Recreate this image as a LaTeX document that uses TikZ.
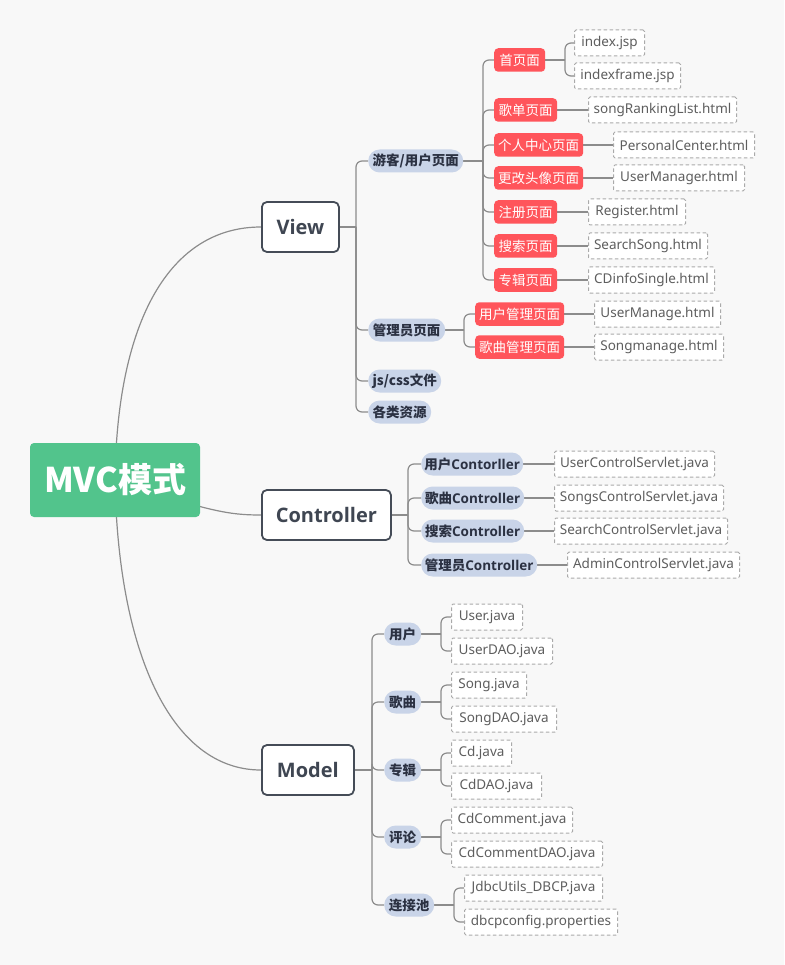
\documentclass[tikz,border=0pt]{standalone}
\usepackage{fontspec}
\setmainfont{Noto Sans}
\newfontfamily\cjk{Noto Sans CJK SC}
\newfontfamily\lat{Noto Sans}
\newfontfamily\latb{Open Sans}
\definecolor{bgc}{HTML}{F8F8F8}
\definecolor{greenc}{HTML}{52C48C}
\definecolor{redc}{HTML}{FF555B}
\definecolor{pillc}{HTML}{C9D4E8}
\definecolor{pilltext}{HTML}{2B3142}
\definecolor{mainb}{HTML}{454C57}
\definecolor{maint}{HTML}{3F4652}
\definecolor{linec}{HTML}{8C8C8C}
\definecolor{dashc}{HTML}{AAAAAA}
\definecolor{dtext}{HTML}{5E5E5E}
\pgfdeclarelayer{bg}
\pgfsetlayers{bg,main}
\tikzset{
  conn/.style={draw=linec, line width=1.2pt},
  elbow/.style={conn, rounded corners=6pt},
  dbox/.style={draw=dashc, dash pattern=on 3.5pt off 2.5pt, fill=white, rounded corners=1.5pt, line width=1pt, font=\lat\fontsize{13.5}{13.5}\selectfont, text=dtext, anchor=west, inner sep=0pt, minimum height=26pt},
  rnode/.style={fill=redc, text=white, rounded corners=4pt, anchor=west, inner sep=0pt, minimum height=23.5pt, font=\cjk\fontsize{13.5}{13.5}\selectfont},
  pill/.style={fill=pillc, text=pilltext, rounded corners=11.5pt, anchor=west, inner sep=0pt, minimum height=23pt, font=\cjk\bfseries\fontsize{13.5}{13.5}\selectfont},
  mainnode/.style={draw=mainb, line width=1.8pt, fill=white, rounded corners=5pt, text=maint, font=\latb\bfseries\fontsize{20}{20}\selectfont, minimum height=50pt, anchor=west, inner sep=0pt},
  rootnode/.style={fill=greenc, text=white, rounded corners=4pt, font=\cjk\bfseries\fontsize{34}{34}\selectfont, minimum width=170pt, minimum height=74pt, inner sep=0pt}
}
\begin{document}
\begin{tikzpicture}[x=1pt,y=-1pt]
\begin{pgfonlayer}{bg}
\fill[bgc] (0,0) rectangle (784,965);
\end{pgfonlayer}
\useasboundingbox (0,0) rectangle (784,965);

% root and main nodes
\node[rootnode] (root) at (115,480) {MVC模式};
\node[mainnode, minimum width=77pt] (view) at (261,227) {View};
\node[mainnode, minimum width=129pt] (ctrl) at (261,515) {Controller};
\node[mainnode, minimum width=92pt] (model) at (261,770) {Model};

% View children
\node[pill, minimum width=95pt] (g1) at (368,161) {游客/用户页面};
\node[pill, minimum width=77pt] (g2) at (368,330) {管理员页面};
\node[pill, minimum width=73pt] (g3) at (368,381) {js/css文件};
\node[pill, minimum width=63pt] (g4) at (368,412) {各类资源};

\node[rnode, minimum width=51pt] (r1) at (494,60) {首页面};
\node[rnode, minimum width=63pt] (r2) at (494,110) {歌单页面};
\node[rnode, minimum width=89pt] (r3) at (494,145) {个人中心页面};
\node[rnode, minimum width=89pt] (r4) at (494,178) {更改头像页面};
\node[rnode, minimum width=63pt] (r5) at (494,212) {注册页面};
\node[rnode, minimum width=63pt] (r6) at (494,246) {搜索页面};
\node[rnode, minimum width=63pt] (r7) at (494,280) {专辑页面};
\node[rnode, minimum width=89pt] (r8) at (475,314) {用户管理页面};
\node[rnode, minimum width=89pt] (r9) at (475,347) {歌曲管理页面};

\node[dbox, minimum width=70pt] (d1a) at (574,43) {index.jsp};
\node[dbox, minimum width=106pt] (d1b) at (574,76) {indexframe.jsp};
\node[dbox, minimum width=148pt] (d2) at (588,110) {songRankingList.html};
\node[dbox, minimum width=141pt] (d3) at (613,145) {PersonalCenter.html};
\node[dbox, minimum width=131pt] (d4) at (613,178) {UserManager.html};
\node[dbox, minimum width=97pt] (d5) at (588,212) {Register.html};
\node[dbox, minimum width=119pt] (d6) at (588,246) {SearchSong.html};
\node[dbox, minimum width=126pt] (d7) at (588,280) {CDinfoSingle.html};
\node[dbox, minimum width=126pt] (d8) at (594,314) {UserManage.html};
\node[dbox, minimum width=129pt] (d9) at (594,347) {Songmanage.html};

% Controller children
\node[pill, minimum width=102pt] (c1) at (421,464) {用户{\latb\bfseries Contorller}};
\node[pill, minimum width=103pt] (c2) at (421,498) {歌曲{\latb\bfseries Controller}};
\node[pill, minimum width=103pt] (c3) at (421,531) {搜索{\latb\bfseries Controller}};
\node[pill, minimum width=116pt] (c4) at (421,565) {管理员{\latb\bfseries Controller}};
\node[dbox, minimum width=160pt] (e1) at (554,464) {UserControlServlet.java};
\node[dbox, minimum width=169pt] (e2) at (554,498) {SongsControlServlet.java};
\node[dbox, minimum width=173pt] (e3) at (554,531) {SearchControlServlet.java};
\node[dbox, minimum width=172pt] (e4) at (567,565) {AdminControlServlet.java};

% Model children
\node[pill, minimum width=37pt] (m1) at (384,634) {用户};
\node[pill, minimum width=37pt] (m2) at (384,702) {歌曲};
\node[pill, minimum width=37pt] (m3) at (384,770) {专辑};
\node[pill, minimum width=37pt] (m4) at (384,837) {评论};
\node[pill, minimum width=50pt] (m5) at (384,905) {连接池};
\node[dbox, minimum width=71pt] (f1a) at (451,617) {User.java};
\node[dbox, minimum width=101pt] (f1b) at (451,651) {UserDAO.java};
\node[dbox, minimum width=75pt] (f2a) at (451,685) {Song.java};
\node[dbox, minimum width=105pt] (f2b) at (451,719) {SongDAO.java};
\node[dbox, minimum width=60pt] (f3a) at (451,753) {Cd.java};
\node[dbox, minimum width=90pt] (f3b) at (451,786) {CdDAO.java};
\node[dbox, minimum width=121pt] (f4a) at (451,820) {CdComment.java};
\node[dbox, minimum width=151pt] (f4b) at (451,854) {CdCommentDAO.java};
\node[dbox, minimum width=138pt] (f5a) at (464,888) {JdbcUtils\_DBCP.java};
\node[dbox, minimum width=153pt] (f5b) at (464,922) {dbcpconfig.properties};

% fork coordinates
\coordinate (kv) at (356,227);
\coordinate (kg1) at (483,161);
\coordinate (kr1) at (565,60);
\coordinate (kg2) at (464,330);
\coordinate (kc) at (408,515);
\coordinate (km) at (372,770);
\coordinate (km1) at (441,634);
\coordinate (km2) at (441,702);
\coordinate (km3) at (441,770);
\coordinate (km4) at (441,837);
\coordinate (km5) at (454,905);

\begin{pgfonlayer}{bg}
% root connectors
\draw[conn] (root.center) .. controls (117,320) and (170,227) .. (view.west);
\draw[conn] (root.center) .. controls (210,512) and (230,515) .. (ctrl.west);
\draw[conn] (root.center) .. controls (118,650) and (170,770) .. (model.west);
% View
\draw[conn] (view.east) -- (kv);
\foreach \n in {g1,g2,g3,g4} \draw[elbow] (kv) |- (\n.west);
\draw[conn] (g1.east) -- (kg1);
\foreach \n in {r1,r2,r3,r4,r5,r6,r7} \draw[elbow] (kg1) |- (\n.west);
\draw[conn] (r1.east) -- (kr1);
\foreach \n in {d1a,d1b} \draw[elbow] (kr1) |- (\n.west);
\draw[conn] (r2.east) -- (d2.west);
\draw[conn] (r3.east) -- (d3.west);
\draw[conn] (r4.east) -- (d4.west);
\draw[conn] (r5.east) -- (d5.west);
\draw[conn] (r6.east) -- (d6.west);
\draw[conn] (r7.east) -- (d7.west);
\draw[conn] (g2.east) -- (kg2);
\foreach \n in {r8,r9} \draw[elbow] (kg2) |- (\n.west);
\draw[conn] (r8.east) -- (d8.west);
\draw[conn] (r9.east) -- (d9.west);
% Controller
\draw[conn] (ctrl.east) -- (kc);
\foreach \n in {c1,c2,c3,c4} \draw[elbow] (kc) |- (\n.west);
\draw[conn] (c1.east) -- (e1.west);
\draw[conn] (c2.east) -- (e2.west);
\draw[conn] (c3.east) -- (e3.west);
\draw[conn] (c4.east) -- (e4.west);
% Model
\draw[conn] (model.east) -- (km);
\foreach \n in {m1,m2,m3,m4,m5} \draw[elbow] (km) |- (\n.west);
\draw[conn] (m1.east) -- (km1);
\draw[conn] (m2.east) -- (km2);
\draw[conn] (m3.east) -- (km3);
\draw[conn] (m4.east) -- (km4);
\draw[conn] (m5.east) -- (km5);
\foreach \n in {f1a,f1b} \draw[elbow] (km1) |- (\n.west);
\foreach \n in {f2a,f2b} \draw[elbow] (km2) |- (\n.west);
\foreach \n in {f3a,f3b} \draw[elbow] (km3) |- (\n.west);
\foreach \n in {f4a,f4b} \draw[elbow] (km4) |- (\n.west);
\foreach \n in {f5a,f5b} \draw[elbow] (km5) |- (\n.west);
\end{pgfonlayer}
\end{tikzpicture}
\end{document}
